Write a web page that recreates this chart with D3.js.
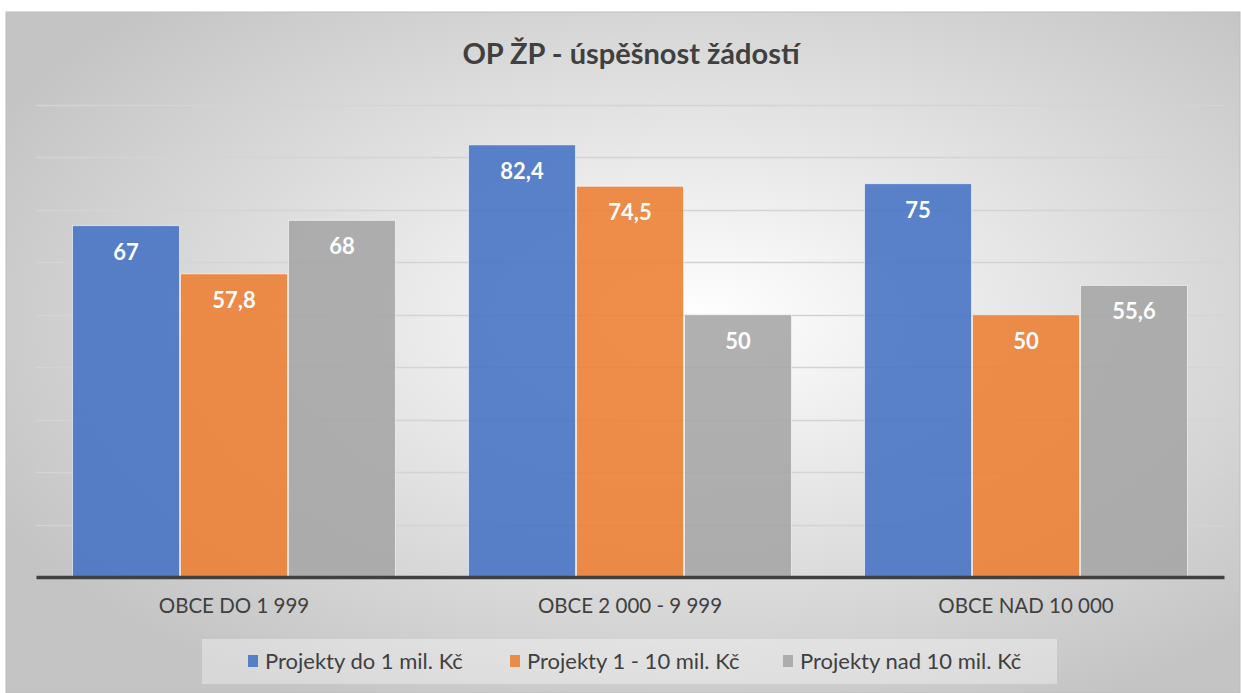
<!DOCTYPE html>
<html>
<head>
<meta charset="utf-8">
<script src="https://cdn.jsdelivr.net/npm/d3@7"></script>
<style>
  body { margin: 0; background: #fff; }
  svg { display: block; font-family: Lato, "Open Sans", sans-serif; }
</style>
</head>
<body>
<div id="chart"></div>
<script>
// chart data
const categories = ["OBCE DO 1 999", "OBCE 2 000 - 9 999", "OBCE NAD 10 000"];
const seriesNames = ["Projekty do 1 mil. Kč", "Projekty 1 - 10 mil. Kč", "Projekty nad 10 mil. Kč"];
const smallProjects = [67, 82.4, 75];
const midProjects = [57.8, 74.5, 50];
const bigProjects = [68, 50, 55.6];
const yTicks = [0, 10, 20, 30, 40, 50, 60, 70, 80, 90];
const colors = ["#4472c4", "#ed7d31", "#a5a5a5"];

const width = 1241, height = 693;
const margin = {top: 105, right: 17, bottom: 116, left: 36};

const svg = d3.select('#chart')
    .append('svg')
    .attr('width', width)
    .attr('height', height);

// background gradient like the office chart area
const defs = svg.append('defs');
const grad = defs.append('radialGradient')
    .attr('id', 'bg')
    .attr('cx', '56%').attr('cy', '45%')
    .attr('r', '64%');
grad.append('stop').attr('offset', '0%').attr('stop-color', '#ffffff');
grad.append('stop').attr('offset', '100%').attr('stop-color', '#c4c4c4');

svg.append('rect')
    .attr('x', 6).attr('y', 12)
    .attr('width', width - 7).attr('height', height - 12)
    .attr('fill', 'url(#bg)')
    .attr('stroke', '#bdbdbd')
    .attr('stroke-width', 1);

const x0 = d3.scaleBand()
    .domain(categories)
    .range([margin.left, width - margin.right])
    .paddingInner(0.182)
    .paddingOuter(0.091);

const x1 = d3.scaleBand()
    .domain(d3.range(seriesNames.length))
    .range([0, x0.bandwidth()])
    .padding(0);

const y = d3.scaleLinear()
    .domain([0, 90])
    .range([height - margin.bottom, margin.top]);

// gridlines
svg.append('g')
    .selectAll('line')
    .data(yTicks.slice(1))
    .enter()
    .append('line')
    .attr('x1', margin.left)
    .attr('x2', width - margin.right)
    .attr('y1', d => Math.round(y(d)) + 0.5)
    .attr('y2', d => Math.round(y(d)) + 0.5)
    .attr('stroke', '#d4d4d4')
    .attr('stroke-width', 1.5);

// bars
const rows = categories.map((c, i) => ({
    cat: c,
    vals: [smallProjects[i], midProjects[i], bigProjects[i]]
}));

const groups = svg.append('g')
    .selectAll('g')
    .data(rows)
    .enter()
    .append('g')
    .attr('transform', d => `translate(${x0(d.cat)},0)`);

groups.selectAll('rect')
    .data(d => d.vals)
    .enter()
    .append('rect')
    .attr('x', (d, i) => x1(i) + 0.5)
    .attr('y', d => y(d))
    .attr('width', x1.bandwidth() - 1)
    .attr('height', d => y(0) - y(d))
    .attr('fill', (d, i) => colors[i])
    .attr('fill-opacity', 0.88)
    .attr('stroke', 'rgba(255,255,255,0.6)')
    .attr('stroke-width', 1);

groups.selectAll('text')
    .data(d => d.vals)
    .enter()
    .append('text')
    .text(d => String(d).replace('.', ','))
    .attr('x', (d, i) => x1(i) + x1.bandwidth() / 2)
    .attr('y', d => y(d) + 34)
    .attr('text-anchor', 'middle')
    .attr('fill', '#fff')
    .attr('font-weight', 'bold')
    .attr('font-size', 22);

// x axis
const xAxis = svg.append('g')
    .attr('transform', `translate(0,${y(0)})`)
    .call(d3.axisBottom(x0).tickSize(0).tickPadding(21));
xAxis.select('.domain')
    .attr('stroke', '#404040')
    .attr('stroke-width', 3.5);
xAxis.selectAll('text')
    .attr('font-family', 'Lato, "Open Sans", sans-serif')
    .attr('font-size', 20.5)
    .attr('fill', '#404040');

// title
svg.append('text')
    .text('OP ŽP - úspěšnost žádostí')
    .attr('x', 631)
    .attr('y', 64)
    .attr('text-anchor', 'middle')
    .attr('font-size', 29)
    .attr('font-weight', 'bold')
    .attr('fill', '#404040');

// legend
const legend = svg.append('g');
legend.append('rect')
    .attr('x', 202).attr('y', 639)
    .attr('width', 855).attr('height', 45)
    .attr('fill', 'rgba(255,255,255,0.35)');

const legendX = [248, 510, 783];
const items = legend.selectAll('g')
    .data(seriesNames)
    .enter()
    .append('g')
    .attr('transform', (d, i) => `translate(${legendX[i]},661)`);
items.append('rect')
    .attr('x', 0).attr('y', -6)
    .attr('width', 10).attr('height', 12)
    .attr('fill', (d, i) => colors[i])
    .attr('fill-opacity', 0.88);
items.append('text')
    .text(d => d)
    .attr('x', 17)
    .attr('y', 8)
    .attr('font-size', 22)
    .attr('fill', '#404040');
</script>
</body>
</html>
